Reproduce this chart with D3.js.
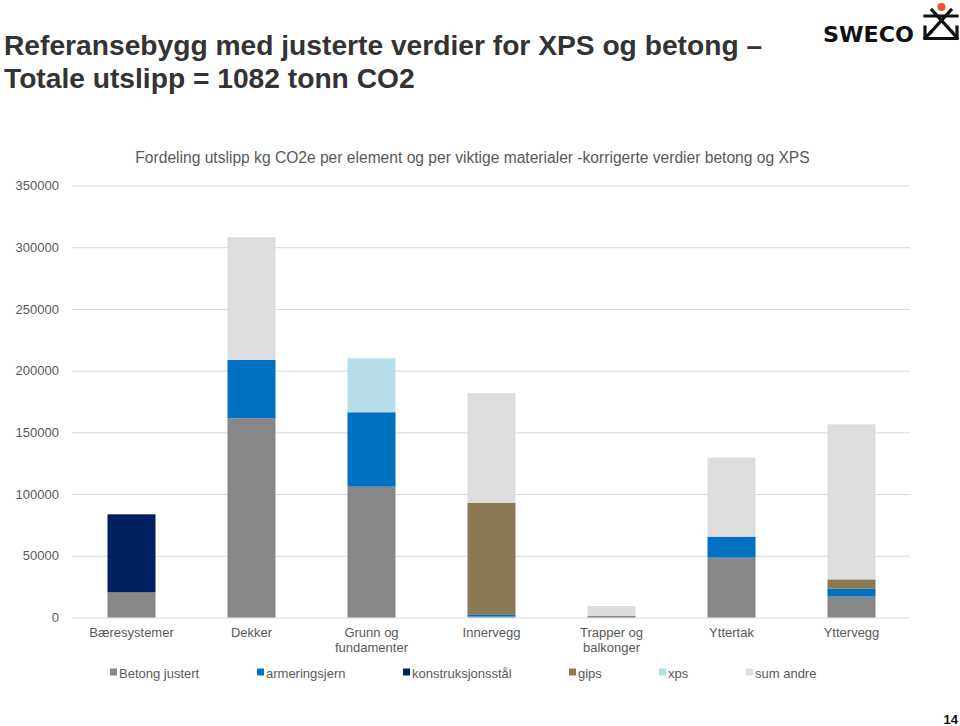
<!DOCTYPE html>
<html><head><meta charset="utf-8">
<script src="https://cdn.jsdelivr.net/npm/d3@7"></script>
<style>body{margin:0;background:#fff;}svg{display:block;font-family:"Liberation Sans",Arial,sans-serif;}</style>
</head><body>
<script>
const categories = ["Bæresystemer","Dekker","Grunn og\nfundamenter","Innervegg","Trapper og\nbalkonger","Yttertak","Yttervegg"];
const seriesNames = ["Betong justert","armeringsjern","konstruksjonsstål","gips","xps","sum andre"];
const betongJustert   = [20400, 161400, 106000,   800, 1500, 48500, 16900];
const armeringsjern   = [    0,  47300,  60300,  1800,    0, 17000,  6400];
const konstruksjonsstal = [63200,    0,      0,     0,    0,     0,     0];
const gips            = [    0,      0,      0, 90400,    0,     0,  7600];
const xps             = [    0,      0,  43700,     0,    0,     0,     0];
const sumAndre        = [    0,  99400,      0, 88700, 7800, 64000,125600];
const yTicks = [0,50000,100000,150000,200000,250000,300000,350000];
const colors = ["#878787","#0070C0","#002060","#8B7953","#B7DEE8","#DDDDDD"];

const W=960,H=726;
const svg=d3.select("body").append("svg").attr("width",W).attr("height",H);

// Title
svg.append("text").attr("x",4).attr("y",55).attr("font-size",28.2).attr("font-weight","bold").attr("fill","#333")
  .text("Referansebygg med justerte verdier for XPS og betong –");
svg.append("text").attr("x",4).attr("y",88).attr("font-size",28.2).attr("font-weight","bold").attr("fill","#333")
  .text("Totale utslipp = 1082 tonn CO2");

// Logo
const logo=svg.append("g");
logo.append("text").attr("x",823).attr("y",42).attr("font-size",21).attr("font-weight","bold")
  .attr("font-family","'DejaVu Sans',sans-serif").attr("fill","#111").attr("textLength",91).attr("lengthAdjust","spacingAndGlyphs").text("SWECO");
logo.append("circle").attr("cx",941.5).attr("cy",7).attr("r",4).attr("fill","#E8562A");
const lp=logo.append("g").attr("stroke","#111").attr("stroke-width",3.2).attr("fill","none").attr("stroke-linecap","square");
lp.append("line").attr("x1",925).attr("y1",16).attr("x2",957).attr("y2",16);
lp.append("line").attr("x1",932).attr("y1",10).attr("x2",952).attr("y2",32);
lp.append("line").attr("x1",951).attr("y1",10).attr("x2",931).attr("y2",32);
lp.append("path").attr("d","M925,27 L925,38.5 L957,38.5 L957,27");
lp.append("line").attr("x1",931).attr("y1",32).attr("x2",925).attr("y2",38);
lp.append("line").attr("x1",952).attr("y1",32).attr("x2",957).attr("y2",38);

// Chart
const x=d3.scaleBand().domain(categories).range([71.5,911.5]).paddingInner(0.6).paddingOuter(0.3);
const y=d3.scaleLinear().domain([0,350000]).range([617.5,185.5]);

svg.append("text").attr("x",472.5).attr("y",163).attr("text-anchor","middle").attr("font-size",15.6).attr("fill","#595959")
  .text("Fordeling utslipp kg CO2e per element og per viktige materialer -korrigerte verdier betong og XPS");

const yAxis=svg.append("g").attr("transform","translate(72,0)")
  .call(d3.axisLeft(y).tickValues(yTicks).tickSize(-838).tickFormat(d=>String(d)).tickPadding(13));
yAxis.select(".domain").remove();
yAxis.selectAll("line").attr("stroke","#D9D9D9").attr("stroke-width",1);
yAxis.selectAll("text").attr("fill","#595959").attr("font-size",13).attr("font-family","'Liberation Sans',Arial,sans-serif");

const data=categories.map((c,i)=>({cat:c,s0:betongJustert[i],s1:armeringsjern[i],s2:konstruksjonsstal[i],s3:gips[i],s4:xps[i],s5:sumAndre[i]}));
const keys=["s0","s1","s2","s3","s4","s5"];
const stack=d3.stack().keys(keys)(data);
svg.append("g").selectAll("g").data(stack).join("g").attr("fill",(d,i)=>colors[i])
  .selectAll("rect").data(d=>d).join("rect")
  .attr("x",d=>x(d.data.cat)).attr("width",x.bandwidth())
  .attr("y",d=>y(d[1])).attr("height",d=>Math.max(0,y(d[0])-y(d[1])));

// x labels
const xl=svg.append("g");
categories.forEach(c=>{
  const lines=c.split("\n");
  const t=xl.append("text").attr("x",x(c)+x.bandwidth()/2).attr("y",637).attr("text-anchor","middle").attr("font-size",13).attr("fill","#595959");
  lines.forEach((l,j)=>t.append("tspan").attr("x",x(c)+x.bandwidth()/2).attr("dy",j?15:0).text(l));
});

// legend
const legX=[110,257,403,569,659,746];
const leg=svg.append("g");
seriesNames.forEach((n,i)=>{
  leg.append("rect").attr("x",legX[i]).attr("y",668.5).attr("width",7).attr("height",7).attr("fill",colors[i]);
  leg.append("text").attr("x",legX[i]+9).attr("y",677.5).attr("font-size",13).attr("fill","#595959").text(n);
});

// page number
svg.append("text").attr("x",958).attr("y",724).attr("text-anchor","end").attr("font-size",13).attr("font-weight","bold").attr("fill","#111").text("14");
</script>
</body></html>
